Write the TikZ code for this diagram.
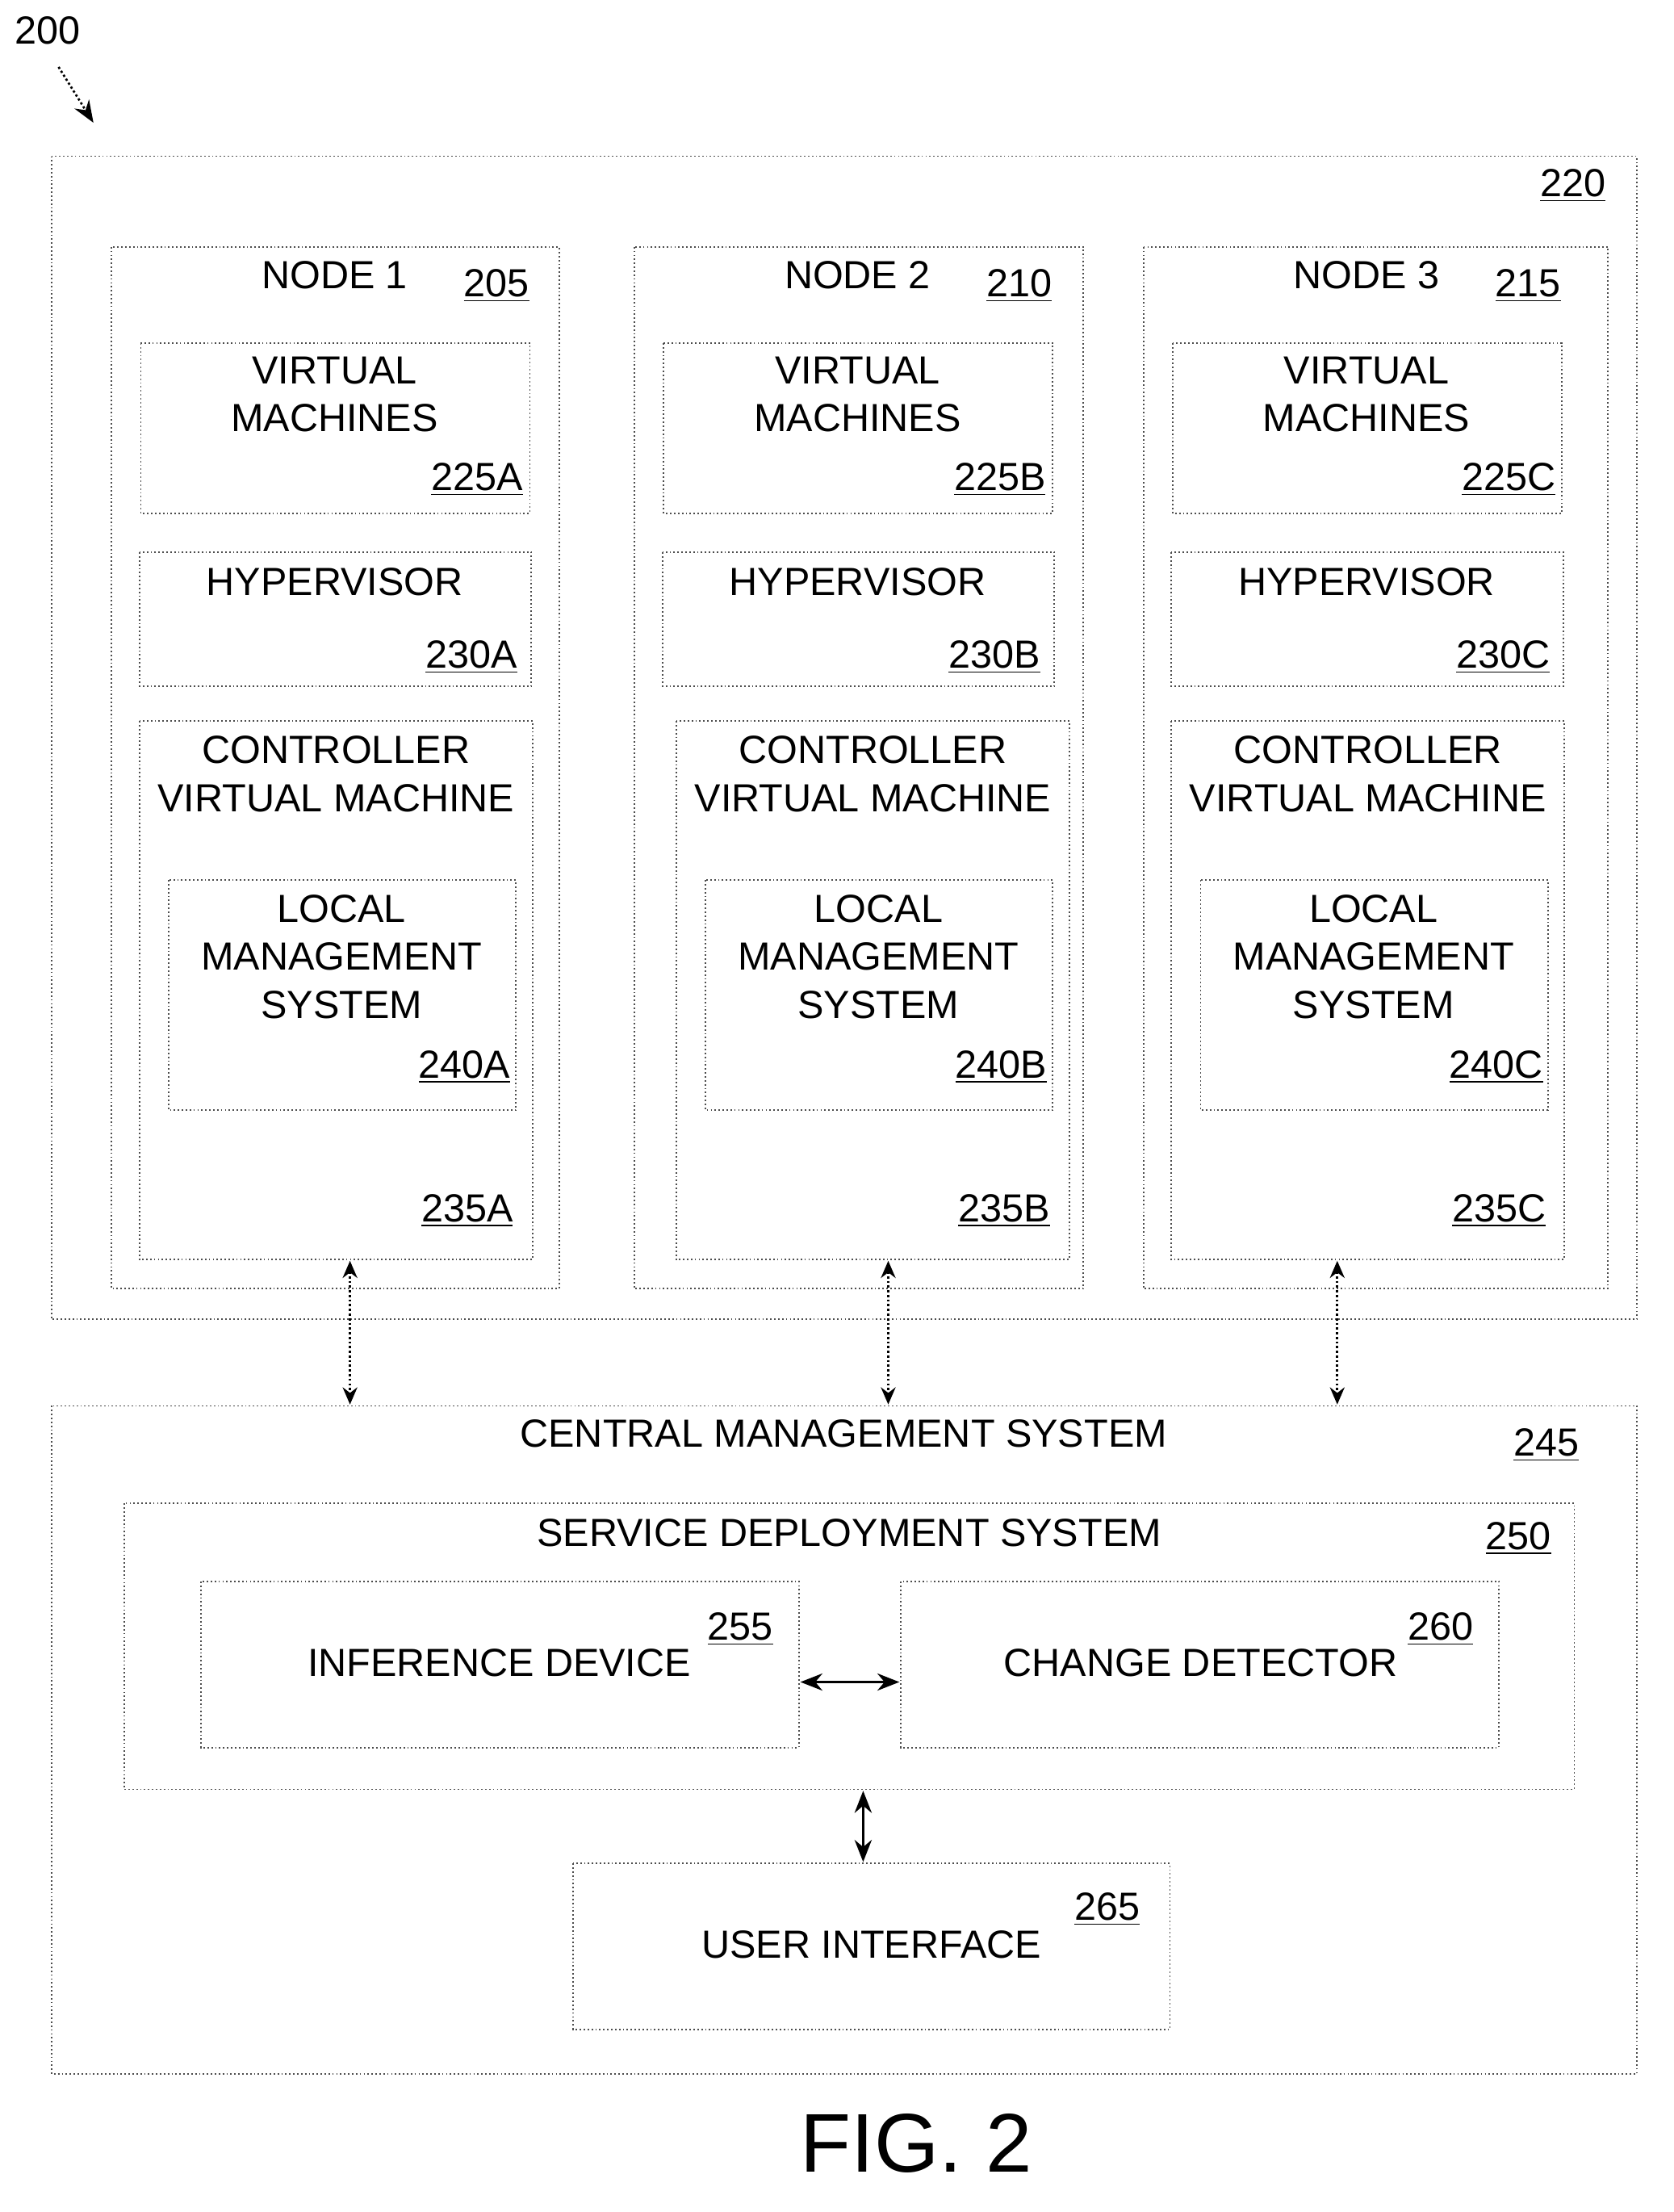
\documentclass[tikz,border=0pt]{standalone}
\usepackage{fontspec}
\setmainfont{Liberation Sans}
\usetikzlibrary{arrows.meta}
\begin{document}
\begin{tikzpicture}[x=0.02cm,y=-0.02cm,
  bx/.style={draw=black!70,densely dotted,line width=0.6pt},
  t/.style={font=\fontsize{16}{19.5}\selectfont,align=center,inner sep=0},
  num/.style={font=\fontsize{16}{19}\selectfont,inner sep=0},
  link/.style={densely dotted,line width=0.9pt,{Stealth[length=7pt,width=6pt]}-{Stealth[length=7pt,width=6pt]}},
  solidlink/.style={line width=1pt,{Stealth[length=9pt,width=7pt]}-{Stealth[length=9pt,width=7pt]}}]
\useasboundingbox (0,0) rectangle (1200,1586);
\newcommand{\un}[1]{\underline{#1}}
\node[num] (l200) at (34,22) {200};
\coordinate (a0) at (42,48); \coordinate (a1) at (67,88);
\draw[densely dotted,line width=0.9pt,-{Stealth[length=9pt,width=7pt]}] (a0) -- (a1);
\draw[bx] (37,112) rectangle (1174,946);
\node[num] (l220) at (1128,133) {\un{220}};
% nodes
\foreach \n/\x/\w/\lab/\num/\s/\cx in {1/80/321/205/A/1/0, 2/455/322/210/B/2/10, 3/820/333/215/C/3/0}{
  \draw[bx] (\x,177) rectangle ++(\w,747);
  \node[t] at (\x+160,197) {NODE \s};
  \node[num] at (\x+276,205) {\un{\lab}};
  \draw[bx] (\x+21,246) rectangle ++(279,122);
  \node[t] at (\x+160,283) {VIRTUAL\\MACHINES};
  \node[num] at (\x+262,344) {\un{225\num}};
  \draw[bx] (\x+20,396) rectangle ++(281,96);
  \node[t] at (\x+160,417) {HYPERVISOR};
  \node[num] at (\x+258,471) {\un{230\num}};
  \draw[bx] (\x+20+\cx,517) rectangle ++(282,386);
  \node[t] at (\x+161+\cx,555) {CONTROLLER\\VIRTUAL MACHINE};
  \node[num] at (\x+255+\cx,868) {\un{235\num}};
  \draw[bx] (\x+41+\cx,631) rectangle ++(249,165);
  \node[t] at (\x+165+\cx,686) {LOCAL\\MANAGEMENT\\SYSTEM};
  \node[num] at (\x+253+\cx,765) {\un{240\num}};
}
\draw[bx] (37,1008) rectangle (1174,1487);
\node[t] at (605,1028) {CENTRAL MANAGEMENT SYSTEM};
\node[num] at (1109,1036) {\un{245}};
\draw[bx] (89,1078) rectangle (1129,1283);
\node[t] at (609,1099) {SERVICE DEPLOYMENT SYSTEM};
\node[num] at (1089,1103) {\un{250}};
\draw[bx] (144,1134) rectangle (573,1253);
\node[t] at (358,1192) {INFERENCE DEVICE};
\node[num] at (531,1168) {\un{255}};
\draw[bx] (646,1134) rectangle (1075,1253);
\node[t] at (861,1192) {CHANGE DETECTOR};
\node[num] at (1033,1168) {\un{260}};
\draw[bx] (411,1336) rectangle (839,1455);
\node[t] at (625,1394) {USER INTERFACE};
\node[num] at (794,1369) {\un{265}};
\draw[link] (251,904) -- (251,1007);
\draw[link] (637,904) -- (637,1007);
\draw[link] (959,904) -- (959,1007);
\draw[solidlink] (574,1206) -- (645,1206);
\draw[solidlink] (619,1284) -- (619,1335);
\node[inner sep=0,font=\fontsize{34}{40}\selectfont] (fig) at (657,1537) {FIG. 2};
\end{tikzpicture}
\end{document}
